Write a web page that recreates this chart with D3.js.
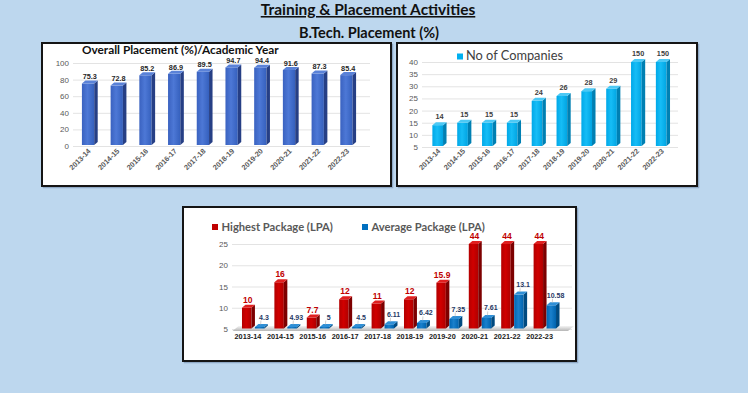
<!DOCTYPE html>
<html>
<head>
<meta charset="utf-8">
<script src="https://cdn.jsdelivr.net/npm/d3@7"></script>
<style>
  body { margin: 0; background: #bdd7ee; }
  svg { display: block; font-family: "Liberation Sans", Arial, sans-serif; }
  .tick text { fill: #595959; }
</style>
</head>
<body>
<script>
var width = 748,
    height = 393

// data
var years = ['2013-14', '2014-15', '2015-16', '2016-17', '2017-18', '2018-19', '2019-20', '2020-21', '2021-22', '2022-23']
var placementPct = [75.3, 72.8, 85.2, 86.9, 89.5, 94.7, 94.4, 91.6, 87.3, 85.4]
var companies = [14, 15, 15, 15, 24, 26, 28, 29, 150, 150]
var highestPkg = [10, 16, 7.7, 12, 11, 12, 15.9, 44, 44, 44]
var avgPkg = [4.3, 4.93, 5, 4.5, 6.11, 6.42, 7.35, 7.61, 13.1, 10.58]
var ticks1 = [0, 20, 40, 60, 80, 100]
var ticks2 = [5, 10, 15, 20, 25, 30, 35, 40]
var ticks3 = [5, 10, 15, 20, 25]

var svg = d3.select('body').append('svg')
    .attr('width', width)
    .attr('height', height)

svg.append('rect').attr('width', width).attr('height', height).attr('fill', '#bdd7ee')

var defs = svg.append('defs')
function grad(id, c1, c2, c3) {
  var g = defs.append('linearGradient').attr('id', id).attr('x1', 0).attr('x2', 1).attr('y1', 0).attr('y2', 0)
  g.append('stop').attr('offset', '0%').attr('stop-color', c1)
  g.append('stop').attr('offset', '45%').attr('stop-color', c2)
  g.append('stop').attr('offset', '100%').attr('stop-color', c3)
}
grad('gBlue', '#3a62c0', '#4d78d6', '#3560bd')
grad('gCyan', '#00a8e8', '#16bdf6', '#00a4e2')
grad('gRed', '#b30000', '#d00000', '#b00000')
grad('gNavy', '#0066b3', '#1a80cc', '#0063ae')
var fg = defs.append('linearGradient').attr('id', 'gFloor').attr('x1', 0).attr('x2', 0).attr('y1', 0).attr('y2', 1)
fg.append('stop').attr('offset', '0%').attr('stop-color', '#f4f4f4')
fg.append('stop').attr('offset', '100%').attr('stop-color', '#b5b5b5')

// titles
svg.append('text')
    .attr('x', 368).attr('y', 15)
    .attr('text-anchor', 'middle')
    .style('font-family', 'Lato, sans-serif')
    .style('font-weight', 'bold')
    .style('font-size', '15.5px')
    .style('text-decoration', 'underline')
    .attr('fill', '#111')
    .text('Training & Placement Activities')

svg.append('text')
    .attr('x', 369).attr('y', 38)
    .attr('text-anchor', 'middle')
    .style('font-family', 'Lato, sans-serif')
    .style('font-weight', 'bold')
    .style('font-size', '14.5px')
    .attr('fill', '#111')
    .text('B.Tech. Placement (%)')

function panel(x0, y0, x1, y1) {
  svg.append('rect')
      .attr('x', x0 + 1.5).attr('y', y0 + 1.5).attr('width', x1 - x0).attr('height', y1 - y0)
      .attr('fill', 'none').attr('stroke', '#8fa9c6').attr('stroke-width', 1.5)
  svg.append('rect')
      .attr('x', x0).attr('y', y0).attr('width', x1 - x0).attr('height', y1 - y0)
      .attr('fill', 'white').attr('stroke', '#151515').attr('stroke-width', 2)
}

// 3D bar: front + side + top faces
var depth = 3.5, rise = 3
function bar3d(g, x, w, yTop, yBase, fill, side, top) {
  var fw = w - depth
  g.append('rect').attr('x', x).attr('y', yTop).attr('width', fw).attr('height', Math.max(0, yBase - yTop)).attr('fill', fill)
  g.append('polygon')
      .attr('points', [[x + fw, yTop], [x + fw + depth, yTop - rise], [x + fw + depth, yBase - rise], [x + fw, yBase]].join(' '))
      .attr('fill', side)
  g.append('polygon')
      .attr('points', [[x, yTop], [x + depth, yTop - rise], [x + fw + depth, yTop - rise], [x + fw, yTop]].join(' '))
      .attr('fill', top)
}

function yAxis(g, y, ticks, x0, x1) {
  g.append('g')
      .attr('transform', 'translate(' + x0 + ',0)')
      .call(d3.axisLeft(y).tickValues(ticks).tickSize(-(x1 - x0)).tickPadding(4))
      .call(function(a) {
        a.select('.domain').remove()
        a.selectAll('.tick line').attr('stroke', '#e3e3e3')
        a.selectAll('.tick text').style('font-size', '8px')
      })
}

function rotatedX(g, x, yPos) {
  g.append('g')
      .attr('transform', 'translate(0,' + yPos + ')')
      .call(d3.axisBottom(x).tickSize(0).tickPadding(0))
      .call(function(a) {
        a.select('.domain').remove()
        a.selectAll('.tick text')
            .attr('fill', '#262626')
            .style('font-weight', 'bold')
            .style('font-size', '7.3px')
            .attr('text-anchor', 'end')
            .attr('dy', 0).attr('y', 0).attr('x', 2)
            .attr('transform', 'rotate(-45)')
      })
}

// ---------- chart 1: overall placement ----------
panel(42, 43, 391, 186)
var g1 = svg.append('g')
var y1 = d3.scaleLinear().domain([0, 100]).range([146, 63])
var x1 = d3.scaleBand().domain(years).range([69, 369]).padding(0.45)
yAxis(g1, y1, ticks1, 73, 370)

g1.append('text')
    .attr('x', 82).attr('y', 53.5)
    .style('font-family', 'Lato, sans-serif')
    .style('font-weight', 'bold').style('font-size', '11.8px')
    .attr('fill', '#111')
    .text('Overall Placement (%)/Academic Year')

years.forEach(function(d, i) {
  var yt = y1(placementPct[i])
  bar3d(g1, x1(d), x1.bandwidth(), yt, y1(0) - 1, 'url(#gBlue)', '#263f85', '#5a82d8')
  g1.append('text')
      .attr('x', x1(d) + x1.bandwidth() / 2).attr('y', yt - 4.3)
      .attr('text-anchor', 'middle')
      .style('font-weight', 'bold').style('font-size', '7.3px')
      .attr('fill', '#262626')
      .text(placementPct[i])
})
rotatedX(g1, x1, 153)

// ---------- chart 2: no of companies ----------
panel(397, 43, 697, 186)
var g2 = svg.append('g')
var y2 = d3.scaleLinear().domain([5, 40]).range([147, 62]).clamp(true)
var x2 = d3.scaleBand().domain(years).range([421.7, 680.7]).padding(0.43)
yAxis(g2, y2, ticks2, 422, 678)

g2.append('rect').attr('x', 457).attr('y', 53.5).attr('width', 6).attr('height', 6).attr('fill', '#00b0f0')
g2.append('text')
    .attr('x', 466).attr('y', 60)
    .style('font-family', 'Lato, sans-serif')
    .style('font-size', '12.8px')
    .attr('fill', '#404040')
    .text('No of Companies')

years.forEach(function(d, i) {
  var yt = y2(companies[i])
  bar3d(g2, x2(d), x2.bandwidth(), yt, y2(5) - 1, 'url(#gCyan)', '#0080b3', '#4cc9f5')
  g2.append('text')
      .attr('x', x2(d) + x2.bandwidth() / 2).attr('y', yt - rise - 3)
      .attr('text-anchor', 'middle')
      .style('font-weight', 'bold').style('font-size', '7.3px')
      .attr('fill', '#404040')
      .text(companies[i])
})
rotatedX(g2, x2, 153)

// ---------- chart 3: packages ----------
panel(183, 207, 576, 361)
var g3 = svg.append('g')
var y3 = d3.scaleLinear().domain([5, 25]).range([329, 244]).clamp(true)
var x3 = d3.scaleBand().domain(years).range([235.5, 566]).padding(0.2)
var xs = d3.scaleBand().domain(['high', 'avg']).range([0, x3.bandwidth()])
yAxis(g3, y3, ticks3, 232, 572)

var fx0 = x3.range()[0] - 3, fx1 = x3.range()[1] + 2, fy = y3(5)
g3.append('polygon')
    .attr('points', [[fx0, fy + 2], [fx1, fy + 2], [fx1 + 6, fy - 3], [fx0 + 6, fy - 3]].join(' '))
    .attr('fill', 'url(#gFloor)')

// legend
var legend = [
  {label: 'Highest Package (LPA)', color: '#c00000', x: 212},
  {label: 'Average Package (LPA)', color: '#0070c0', x: 362}
]
legend.forEach(function(l) {
  g3.append('rect').attr('x', l.x).attr('y', 224).attr('width', 6).attr('height', 6).attr('fill', l.color)
  g3.append('text')
      .attr('x', l.x + 9.5).attr('y', 230.5)
      .style('font-family', 'Lato, sans-serif')
      .style('font-weight', 'bold').style('font-size', '11.2px')
      .attr('fill', '#595959')
      .text(l.label)
})

years.forEach(function(d, i) {
  var base = y3(5) - 0.5
  var xh = x3(d) + xs('high'), xa = x3(d) + xs('avg'), w = xs.bandwidth()
  var yh = y3(highestPkg[i])
  var ya = Math.min(y3(avgPkg[i]), base - 1.5)
  bar3d(g3, xh, w, yh, base, 'url(#gRed)', '#7d0000', '#e02020')
  bar3d(g3, xa, w, ya, base, 'url(#gNavy)', '#004a80', '#2f8fd6')

  g3.append('text')
      .attr('x', xh + (w - depth) / 2 + 1).attr('y', yh - 5)
      .attr('text-anchor', 'middle')
      .style('font-weight', 'bold').style('font-size', '8.5px')
      .attr('fill', '#c00000')
      .text(highestPkg[i])

  var lx = xa + w / 2 + 2.5, ly = ya - 7.5
  g3.append('line')
      .attr('x1', xa + (w - depth) / 2 + 1).attr('y1', ya - rise + 0.5)
      .attr('x2', lx - 3).attr('y2', ly + 1)
      .attr('stroke', '#b0b0b0').attr('stroke-width', 0.6)
  g3.append('text')
      .attr('x', lx).attr('y', ly)
      .attr('text-anchor', 'middle')
      .style('font-weight', 'bold').style('font-size', '7px')
      .attr('fill', '#1f3864')
      .text(avgPkg[i])

  g3.append('text')
      .attr('x', x3(d) + x3.bandwidth() / 2 - 7).attr('y', 339)
      .attr('text-anchor', 'middle')
      .style('font-weight', 'bold').style('font-size', '7.3px')
      .attr('fill', '#1a1a1a')
      .text(d)
})
</script>
</body>
</html>
